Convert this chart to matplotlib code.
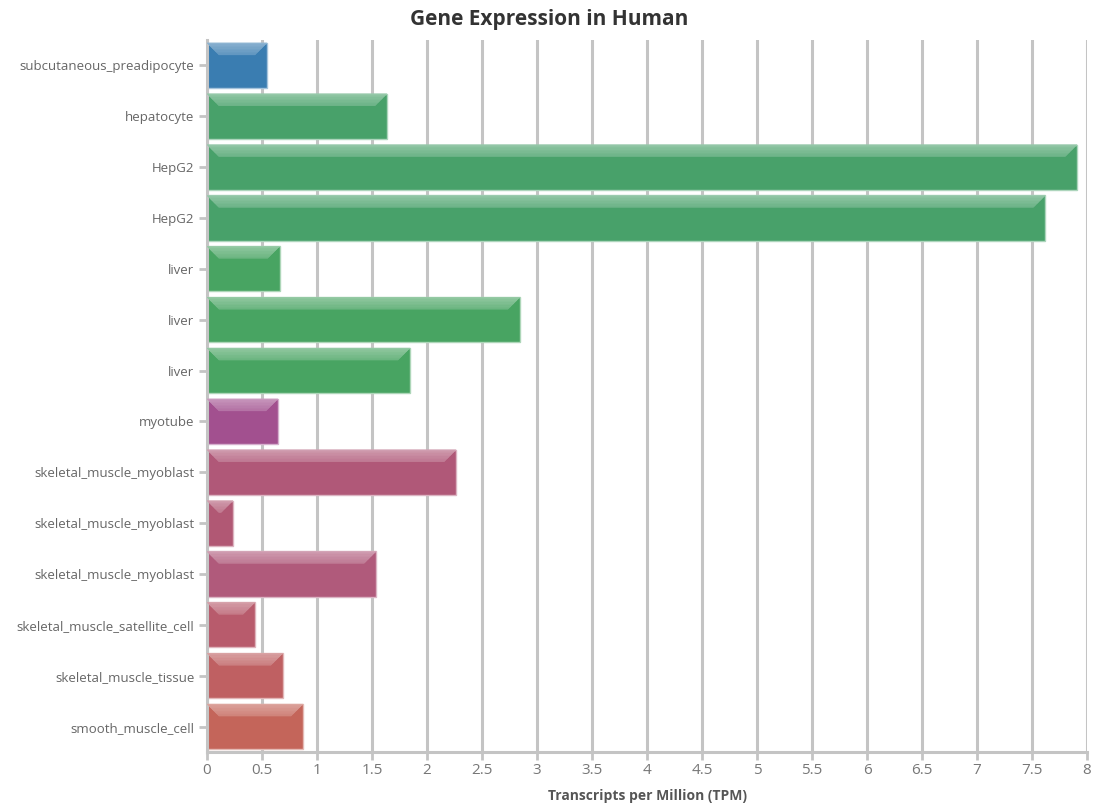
import matplotlib
matplotlib.use("Agg")
import matplotlib.pyplot as plt
from matplotlib.patches import Polygon, Rectangle
from matplotlib.colors import to_rgb
import numpy as np

plt.rcParams['font.family'] = ['Open Sans', 'DejaVu Sans']

categories = [
    "subcutaneous_preadipocyte", "hepatocyte", "HepG2", "HepG2",
    "liver", "liver", "liver", "myotube",
    "skeletal_muscle_myoblast", "skeletal_muscle_myoblast", "skeletal_muscle_myoblast",
    "skeletal_muscle_satellite_cell", "skeletal_muscle_tissue", "smooth_muscle_cell",
]
values = [0.545, 1.636, 7.91, 7.62, 0.66, 2.845, 1.845, 0.645,
          2.264, 0.236, 1.536, 0.436, 0.69, 0.873]
colors = ["#3a7db1", "#48a16a", "#48a16a", "#48a16a", "#48a462", "#48a462", "#48a462",
          "#a2508f", "#b05878", "#b15874", "#b05a7b", "#b85b6c", "#bf6062", "#c4655a"]
xticks = np.arange(0, 8.01, 0.5)
xtick_labels = ["0", "0.5", "1", "1.5", "2", "2.5", "3", "3.5", "4", "4.5",
                "5", "5.5", "6", "6.5", "7", "7.5", "8"]

W, H = 1099, 808
fig = plt.figure(figsize=(W / 100, H / 100), dpi=100)
ax = fig.add_axes([207 / W, 56 / H, 880 / W, 712 / H])
ax.set_xlim(0, 8)
ax.set_ylim(len(categories) - 0.5, -0.5)

grid_c = "#c4c4c4"
for x in xticks:
    ax.axvline(x, color=grid_c, lw=2.2, zorder=0)

px_x = 8 / 880.0               # data units per pixel (x)
px_y = len(categories) / 712.0  # data units per pixel (y)
bar_h = 0.885

def lighten(c, f):
    r, g, b = to_rgb(c)
    return (r + (1 - r) * f, g + (1 - g) * f, b + (1 - b) * f)

for i, (v, c) in enumerate(zip(values, colors)):
    top = i - bar_h / 2
    ax.add_patch(Rectangle((0, top), v, bar_h, facecolor=c,
                           edgecolor=lighten(c, 0.55), lw=1.0, zorder=2))
    # bevelled highlight along the top edge, shaded from light to bar colour
    dx = min(12 * px_x, v / 2)
    hh = min(dx / px_x * px_y, 12 * px_y)
    steps = 16
    for k in range(steps):
        y0 = top + hh * k / steps
        y1 = top + hh * (k + 1) / steps
        x0a = dx * k / steps
        x0b = dx * (k + 1) / steps
        poly = [(x0a, y0), (v - x0a, y0), (v - x0b, y1), (x0b, y1)]
        f = 0.42 - 0.22 * k / steps
        col = lighten(c, f)
        ax.add_patch(Polygon(poly, closed=True, facecolor=col,
                             edgecolor=col, lw=0.3, zorder=3))

ax.set_yticks(range(len(categories)))
ax.set_yticklabels(categories)
ax.set_xticks(xticks)
ax.set_xticklabels(xtick_labels)
ax.tick_params(axis='y', length=6, width=2, color=grid_c, labelcolor="#666666",
               labelsize=9.5, pad=3)
ax.tick_params(axis='x', length=6, width=2, color=grid_c, labelcolor="#777777",
               labelsize=11, pad=2)
for s in ["top", "right"]:
    ax.spines[s].set_visible(False)
for s in ["left", "bottom"]:
    ax.spines[s].set_color(grid_c)
    ax.spines[s].set_linewidth(2.2)

ax.set_xlabel("Transcripts per Million (TPM)", fontsize=10, fontweight='bold',
              color="#555555", labelpad=8)
fig.text(0.5, 1 - 20 / H, "Gene Expression in Human", ha='center', va='center',
         fontsize=15, fontweight='bold', color="#333333")

fig.savefig("out.png", dpi=100)
